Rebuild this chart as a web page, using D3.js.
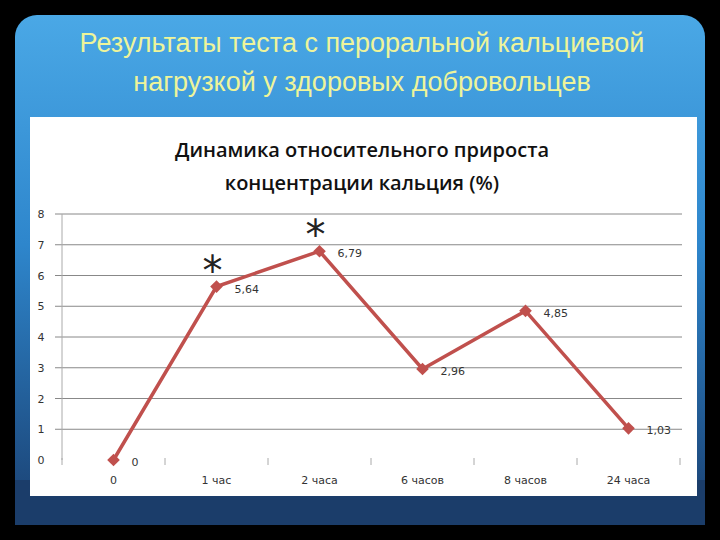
<!doctype html>
<html lang="en">
<head>
<meta charset="utf-8">
<script src="https://cdn.jsdelivr.net/npm/d3@7"></script>
<style>body{margin:0;background:#000;} svg{display:block;}</style>
</head>
<body>
<script>
var categories = ["0", "1 час", "2 часа", "6 часов", "8 часов", "24 часа"];
var values = [0, 5.64, 6.79, 2.96, 4.85, 1.03];
var labels = ["0", "5,64", "6,79", "2,96", "4,85", "1,03"];
var starred = ["1 час", "2 часа"];
var yTicks = [0, 1, 2, 3, 4, 5, 6, 7, 8];

var svg = d3.select("body").append("svg").attr("width", 720).attr("height", 540);
var defs = svg.append("defs");
var g1 = defs.append("linearGradient").attr("id", "bg").attr("x1", 0).attr("y1", 0).attr("x2", 0).attr("y2", 1);
g1.append("stop").attr("offset", "0").attr("stop-color", "#4aa8e6");
g1.append("stop").attr("offset", "0.45").attr("stop-color", "#2e86cc");
g1.append("stop").attr("offset", "1").attr("stop-color", "#1a3f70");

svg.append("rect").attr("x", 15).attr("y", 15).attr("width", 690).attr("height", 510).attr("rx", 22).attr("fill", "url(#bg)");
svg.append("rect").attr("x", 15).attr("y", 480).attr("width", 690).attr("height", 45).attr("fill", "#1b3d6a");

svg.append("text").attr("x", 362).attr("y", 52).attr("text-anchor", "middle")
  .attr("font-family", "Liberation Sans Narrow, Liberation Sans, sans-serif").attr("font-size", 27).attr("fill", "#eef49a")
  .text("Результаты теста с пероральной кальциевой");
svg.append("text").attr("x", 362).attr("y", 91).attr("text-anchor", "middle")
  .attr("font-family", "Liberation Sans Narrow, Liberation Sans, sans-serif").attr("font-size", 27).attr("fill", "#eef49a")
  .text("нагрузкой у здоровых добровольцев");

svg.append("rect").attr("x", 30).attr("y", 117).attr("width", 667).attr("height", 379).attr("fill", "#fff");

svg.append("text").attr("x", 362).attr("y", 157).attr("text-anchor", "middle")
  .attr("font-family", "Open Sans, sans-serif").attr("font-weight", 600).attr("font-size", 20).attr("fill", "#111")
  .text("Динамика относительного прироста");
svg.append("text").attr("x", 362).attr("y", 190).attr("text-anchor", "middle")
  .attr("font-family", "Open Sans, sans-serif").attr("font-weight", 600).attr("font-size", 20).attr("fill", "#111")
  .text("концентрации кальция (%)");

var x = d3.scaleBand().domain(categories).range([62, 680]);
var y = d3.scaleLinear().domain([0, 8]).range([460, 214]);
var cx = function(d){ return x(d) + x.bandwidth() / 2; };

svg.append("g").selectAll("line").data(yTicks.slice(1)).enter().append("line")
  .attr("x1", 55).attr("x2", 682).attr("y1", function(d){ return y(d); }).attr("y2", function(d){ return y(d); })
  .attr("stroke", "#888").attr("stroke-width", 1);
svg.append("line").attr("x1", 62).attr("x2", 62).attr("y1", 214).attr("y2", 460).attr("stroke", "#aaa");
svg.append("g").selectAll("line").data(categories.concat(["end"])).enter().append("line")
  .attr("x1", function(d, i){ return 62 + i * x.step(); }).attr("x2", function(d, i){ return 62 + i * x.step(); })
  .attr("y1", 458).attr("y2", 465).attr("stroke", "#aaa");

svg.append("g").selectAll("text").data(yTicks).enter().append("text")
  .attr("x", 41).attr("y", function(d){ return y(d) + 4; }).attr("text-anchor", "middle")
  .attr("font-family", "DejaVu Sans, sans-serif").attr("font-size", 11).attr("fill", "#333").text(function(d){ return d; });
svg.append("g").selectAll("text").data(categories).enter().append("text")
  .attr("x", cx).attr("y", 484).attr("text-anchor", "middle")
  .attr("font-family", "DejaVu Sans, sans-serif").attr("font-size", 11).attr("fill", "#333").text(function(d){ return d; });

var line = d3.line().x(function(d, i){ return cx(categories[i]); }).y(function(d){ return y(d); });
svg.append("path").datum(values).attr("d", line).attr("fill", "none").attr("stroke", "#c0504d").attr("stroke-width", 3.5);
svg.append("g").selectAll("path").data(values).enter().append("path")
  .attr("d", d3.symbol().type(d3.symbolSquare).size(80))
  .attr("transform", function(d, i){ return "translate(" + cx(categories[i]) + "," + y(d) + ") rotate(45)"; })
  .attr("fill", "#c0504d");
svg.append("g").selectAll("text").data(values).enter().append("text")
  .attr("x", function(d, i){ return cx(categories[i]) + 18; }).attr("y", function(d){ return y(d) + 6; })
  .attr("font-family", "DejaVu Sans, sans-serif").attr("font-size", 11).attr("fill", "#333")
  .text(function(d, i){ return labels[i]; });
svg.append("g").selectAll("text").data(starred).enter().append("text")
  .attr("x", function(d){ return cx(d) - 4; }).attr("y", function(d){ return y(values[categories.indexOf(d)]) - 2; })
  .attr("text-anchor", "middle").attr("font-family", "DejaVu Sans, sans-serif").attr("font-size", 40).attr("fill", "#222")
  .text("*");
</script>
</body>
</html>
